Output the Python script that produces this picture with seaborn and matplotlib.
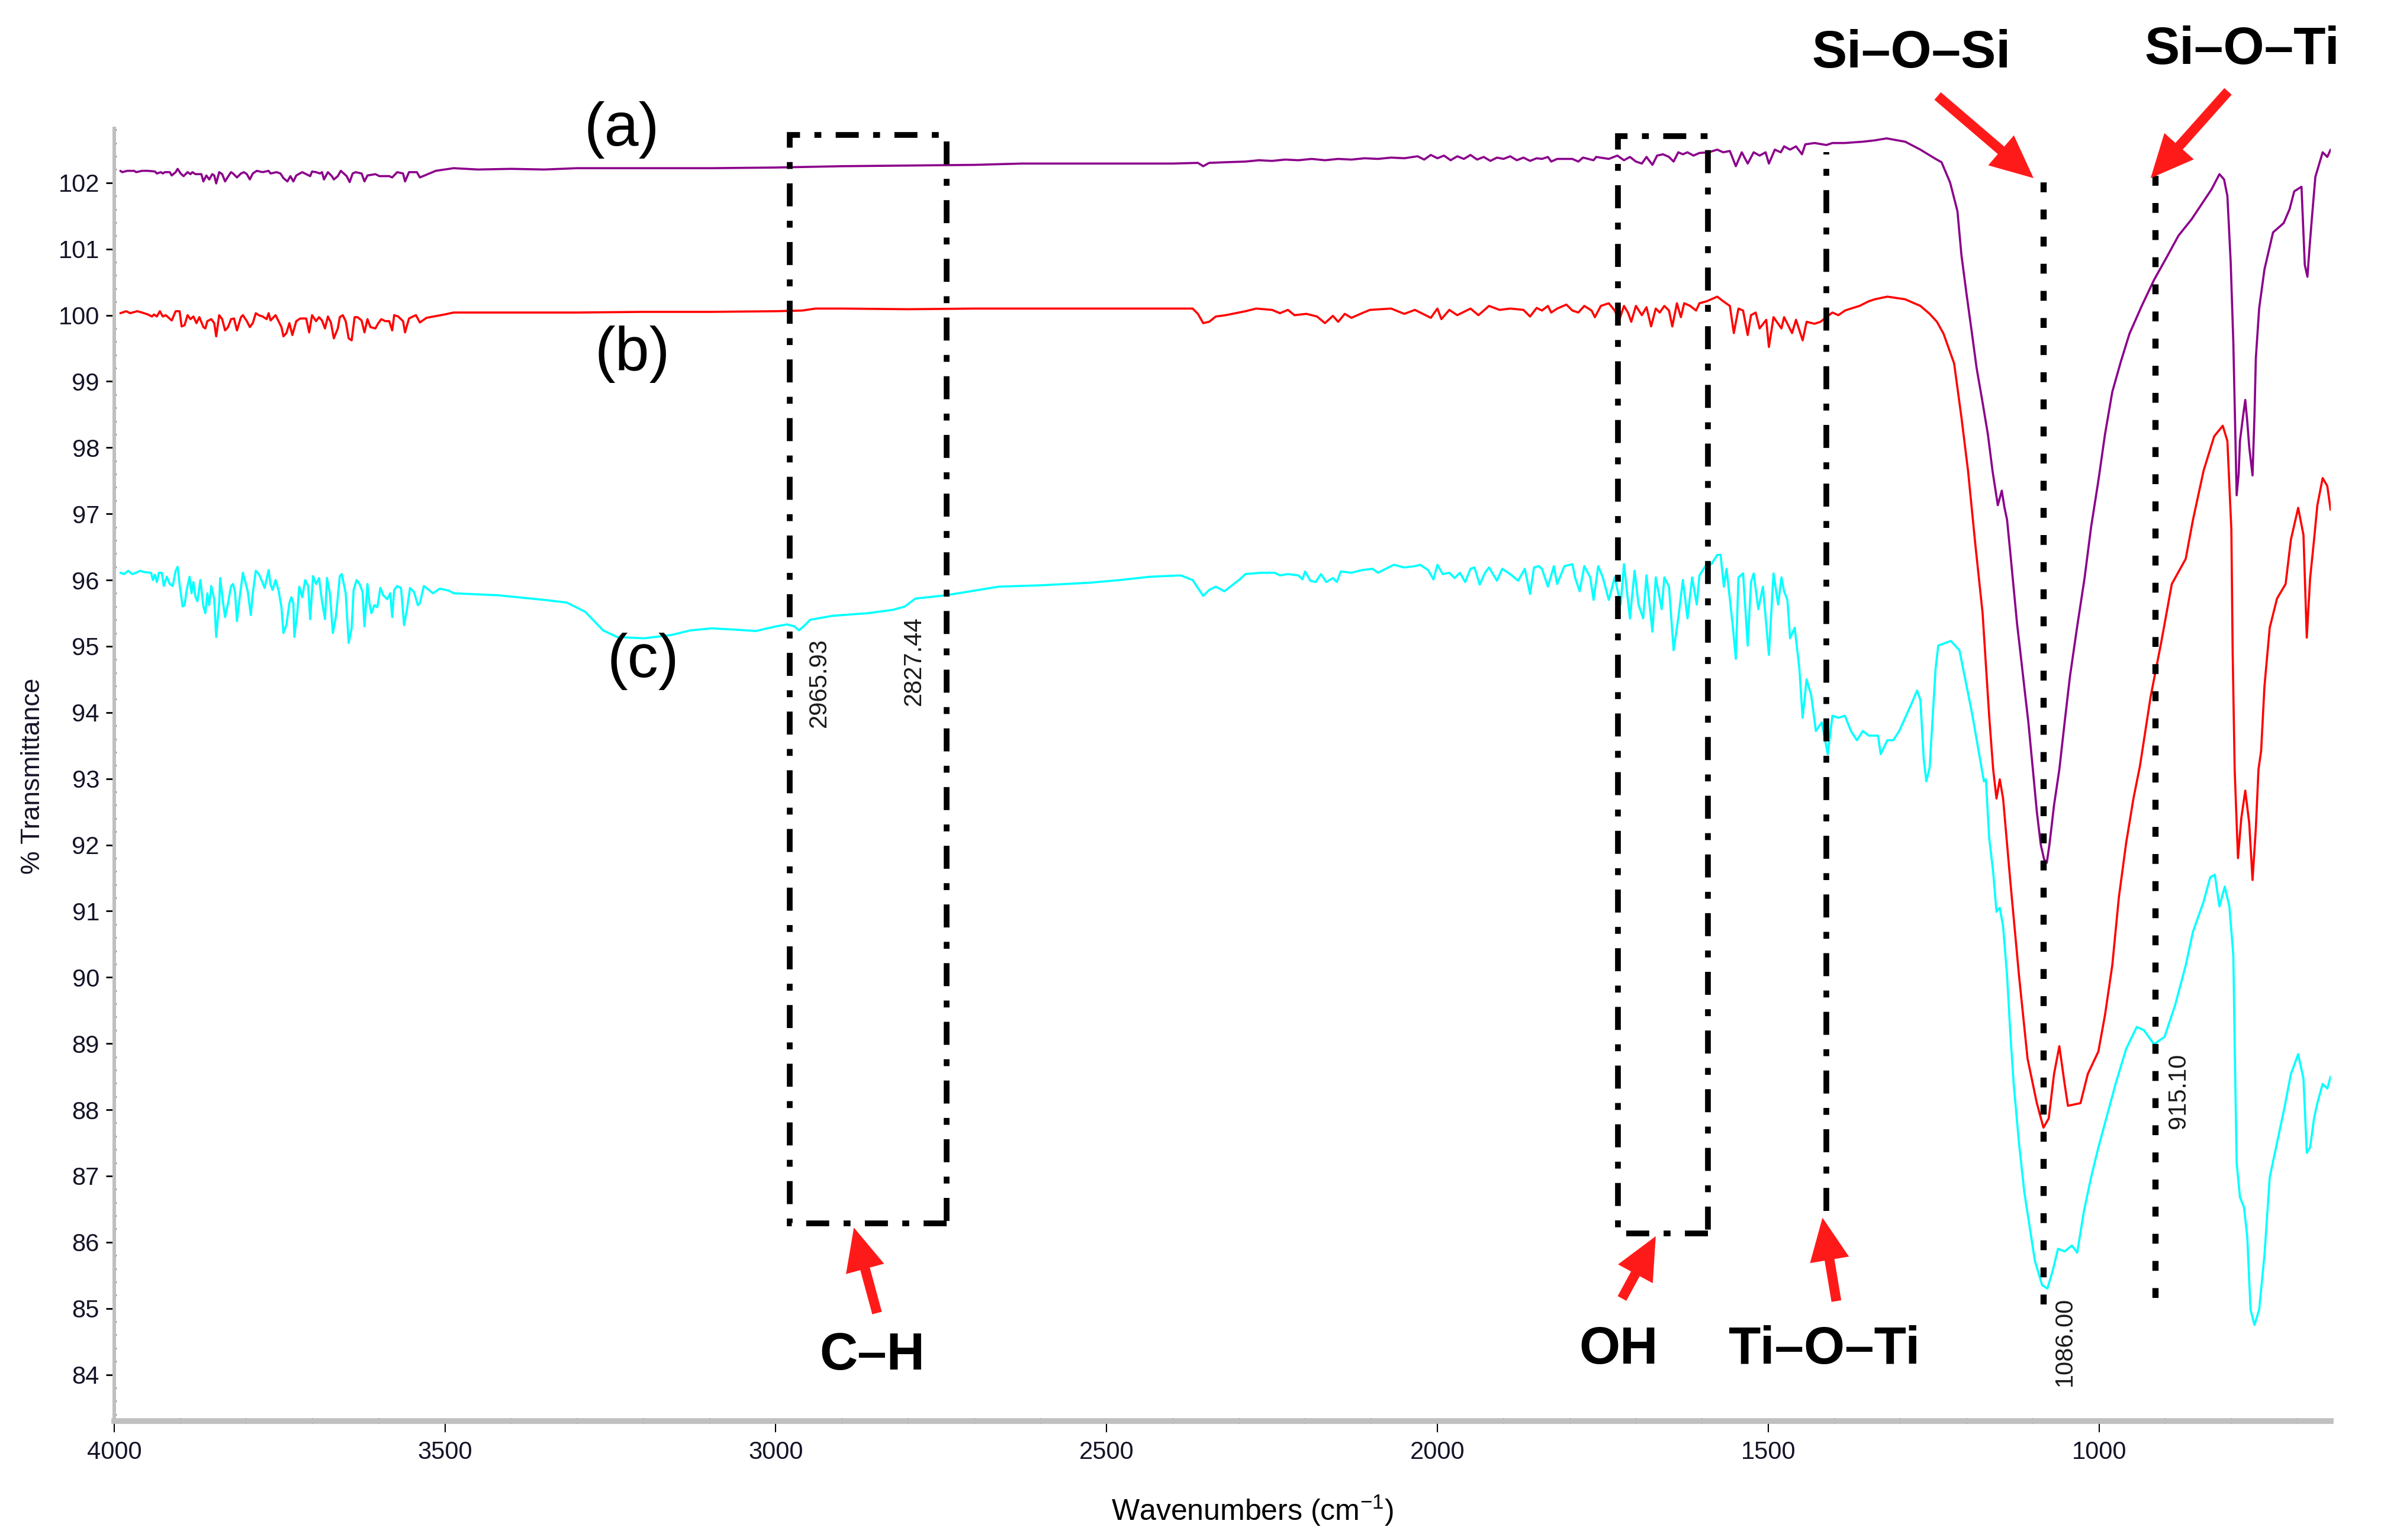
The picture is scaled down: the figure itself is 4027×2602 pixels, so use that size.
import numpy as np
import matplotlib
matplotlib.use("Agg")
import matplotlib.pyplot as plt
from matplotlib.patches import Rectangle
from matplotlib.ticker import FixedLocator, MultipleLocator
import seaborn as sns

# ==================== DATA ====================
# (a) purple
wn_a = [3990.7, 3987.8, 3980.3, 3969.8, 3966.8, 3957.9, 3948.9, 3938.4, 3935.5, 3929.5,
        3926.5, 3923.5, 3916.0, 3913.0, 3907.1, 3904.1, 3899.6, 3895.1, 3889.1, 3884.7,
        3881.7, 3877.2, 3868.2, 3865.2, 3860.7, 3856.3, 3851.8, 3848.8, 3845.8, 3841.3,
        3836.8, 3832.4, 3829.4, 3823.4, 3820.4, 3814.4, 3808.4, 3804.0, 3799.5, 3795.0,
        3790.5, 3784.5, 3775.6, 3766.6, 3763.6, 3754.6, 3748.7, 3744.2, 3738.2, 3733.7,
        3729.2, 3724.8, 3715.8, 3709.8, 3703.8, 3700.9, 3694.9, 3688.9, 3685.9, 3682.9,
        3677.0, 3671.0, 3668.0, 3662.0, 3657.5, 3653.0, 3648.6, 3644.1, 3639.6, 3635.1,
        3626.1, 3621.7, 3617.2, 3605.2, 3599.2, 3584.3, 3579.8, 3572.3, 3563.4, 3560.4,
        3554.4, 3542.5, 3538.0, 3514, 3487,
        3450, 3400, 3350, 3300, 3200, 3097, 3000, 2900, 2800, 2700, 2628, 2500, 2400, 2362, 2354, 2345,
        2320, 2290, 2270, 2250, 2230, 2210, 2190, 2170, 2150, 2130, 2110, 2090, 2070, 2050, 2030, 2020,
        2010, 2000, 1990, 1980, 1970, 1960, 1950, 1940, 1930, 1920, 1910, 1900, 1890, 1880, 1870, 1860, 1850,
        1842, 1833, 1828, 1819, 1796, 1787, 1780, 1764, 1760, 1741, 1728, 1718, 1709, 1700, 1691, 1684,
        1675, 1668, 1659, 1650, 1643, 1636, 1629, 1622, 1613, 1604, 1590, 1577, 1568, 1558, 1549, 1540,
        1531, 1522, 1513, 1504, 1499, 1490, 1481, 1476, 1467, 1458, 1449, 1444, 1430, 1412, 1403, 1385,
        1357, 1339, 1321, 1293, 1270, 1247,
        1238, 1225, 1214, 1208, 1200, 1192, 1185, 1176, 1168, 1161, 1153, 1147, 1143, 1139, 1134, 1129,
        1124, 1118, 1112, 1107, 1100, 1094, 1088, 1083, 1079, 1075, 1068, 1060, 1052, 1044, 1033, 1022,
        1012, 1001, 991, 980, 967, 954, 935, 917, 898, 880, 860, 842, 830, 818, 811, 806,
        801, 797, 794, 792, 789, 787, 782, 779, 776, 773, 768, 765, 763, 758, 750, 737,
        721, 712, 705, 694, 689, 685, 682, 678, 673, 662, 655, 650]
tr_a = [102.18, 102.16, 102.18, 102.18, 102.16, 102.18, 102.18, 102.17, 102.14, 102.16,
        102.14, 102.16, 102.16, 102.11, 102.16, 102.21, 102.14, 102.10, 102.16, 102.13,
        102.16, 102.13, 102.13, 102.02, 102.11, 102.05, 102.13, 102.11, 101.99, 102.16,
        102.13, 102.02, 102.07, 102.16, 102.14, 102.08, 102.14, 102.16, 102.13, 102.05,
        102.14, 102.18, 102.16, 102.18, 102.14, 102.16, 102.14, 102.07, 102.02, 102.10,
        102.02, 102.11, 102.16, 102.13, 102.10, 102.17, 102.16, 102.14, 102.16, 102.05,
        102.16, 102.10, 102.05, 102.10, 102.18, 102.14, 102.10, 102.01, 102.14, 102.16,
        102.14, 102.02, 102.11, 102.13, 102.10, 102.10, 102.08, 102.16, 102.14, 102.02,
        102.16, 102.16, 102.08, 102.18, 102.22,
        102.20, 102.21, 102.20, 102.22, 102.22, 102.22, 102.23, 102.25, 102.26, 102.27, 102.29, 102.29, 102.29, 102.30, 102.25, 102.30,
        102.31, 102.32, 102.34, 102.33, 102.35, 102.34, 102.36, 102.34, 102.36, 102.35, 102.37, 102.36, 102.38, 102.37, 102.40, 102.35,
        102.42, 102.37, 102.41, 102.34, 102.40, 102.36, 102.42, 102.35, 102.39, 102.33, 102.38, 102.36, 102.40, 102.34, 102.38, 102.33, 102.37,
        102.36, 102.39, 102.32, 102.36, 102.36, 102.32, 102.38, 102.34, 102.39, 102.36, 102.41, 102.34, 102.39, 102.32, 102.29, 102.39,
        102.27, 102.41, 102.43, 102.39, 102.32, 102.46, 102.43, 102.46, 102.41, 102.45, 102.46, 102.50, 102.46, 102.48, 102.25, 102.46,
        102.29, 102.46, 102.41, 102.46, 102.29, 102.50, 102.46, 102.55, 102.50, 102.55, 102.43, 102.58, 102.60, 102.57, 102.60, 102.60,
        102.62, 102.64, 102.67, 102.62, 102.50, 102.36,
        102.31, 102.00, 101.57, 100.91, 100.30, 99.72, 99.20, 98.68, 98.20, 97.65, 97.13, 97.35, 97.10, 96.91, 96.40, 95.87,
        95.35, 94.83, 94.30, 93.87, 93.14, 92.50, 92.00, 91.78, 91.73, 92.00, 92.60, 93.14, 93.85, 94.54, 95.30, 96.02,
        96.80, 97.50, 98.20, 98.84, 99.30, 99.72, 100.15, 100.53, 100.87, 101.20, 101.45, 101.72, 101.90, 102.13, 102.05, 101.80,
        100.80, 99.58, 98.20, 97.28, 97.60, 98.10, 98.50, 98.72, 98.40, 98.01, 97.58, 98.50, 99.35, 100.10, 100.69, 101.25,
        101.39, 101.60, 101.87, 101.94, 100.76, 100.58, 101.00, 101.50, 102.09, 102.46, 102.39, 102.50]

# (b) red
wn_b = [3990.7, 3981.8, 3975.8, 3965.3, 3957.9, 3948.9, 3942.9, 3939.9, 3935.5, 3931.0,
        3926.5, 3922.0, 3913.0, 3907.1, 3901.1, 3898.1, 3893.6, 3889.1, 3884.7, 3880.2,
        3875.7, 3871.2, 3865.2, 3862.2, 3859.2, 3853.3, 3848.8, 3845.8, 3841.3, 3836.8,
        3832.4, 3827.9, 3823.4, 3818.9, 3814.4, 3808.4, 3805.5, 3799.5, 3795.0, 3790.5,
        3786.0, 3781.5, 3775.6, 3769.6, 3766.6, 3763.6, 3756.1, 3753.1, 3747.2, 3744.2,
        3739.7, 3735.2, 3730.7, 3724.8, 3718.8, 3709.8, 3705.3, 3700.9, 3694.9, 3690.4,
        3685.9, 3681.4, 3677.0, 3672.5, 3668.0, 3662.0, 3659.0, 3654.5, 3650.1, 3645.6,
        3641.1, 3636.6, 3632.1, 3626.1, 3621.7, 3617.2, 3612.7, 3605.2, 3600.7, 3596.3,
        3590.3, 3584.3, 3579.8, 3576.8, 3570.8, 3563.4, 3560.4, 3554.4, 3548.4, 3543.9,
        3538.0, 3528, 3501, 3487,
        3400, 3300, 3200, 3100, 3000, 2960, 2940, 2900, 2800, 2700, 2600, 2500, 2400, 2370, 2362, 2354,
        2345, 2335, 2320, 2300,
        2290, 2274, 2250, 2238, 2226, 2216, 2198, 2182, 2170, 2158, 2150, 2140, 2130, 2114, 2102, 2070,
        2050, 2034, 2010, 2000, 1994, 1982, 1970, 1950, 1938, 1922, 1906, 1890, 1870, 1860, 1850,
        1842, 1833, 1828, 1819, 1805, 1796, 1787, 1778, 1767, 1762, 1753, 1741, 1732, 1725, 1718, 1712,
        1707, 1700, 1691, 1684, 1677, 1670, 1664, 1657, 1650, 1645, 1638, 1632, 1627, 1618, 1609, 1604,
        1593, 1577, 1568, 1558, 1552, 1545, 1538, 1531, 1526, 1519, 1513, 1503, 1499, 1492, 1485, 1480,
        1476, 1464, 1458, 1448, 1442, 1430, 1421, 1412, 1403, 1394, 1384, 1375, 1362, 1348, 1339, 1320,
        1293, 1270, 1256,
        1245, 1235, 1219, 1208, 1198, 1187, 1176, 1166, 1160, 1155, 1150, 1145, 1134, 1121, 1108, 1094,
        1084, 1076, 1068, 1060, 1052, 1047, 1028, 1017, 1001, 991, 980, 970, 959, 948, 938, 922,
        906, 890, 869, 858, 842, 826, 813, 806, 800, 798, 795, 790, 785, 779, 773, 768,
        763, 759, 755, 750, 742, 731, 718, 710, 699, 691, 686, 681, 675, 670, 662, 655, 650]
tr_b = [100.03, 100.06, 100.03, 100.06, 100.04, 100.01, 99.98, 100.01, 99.98, 100.06,
        99.98, 100.00, 99.92, 100.06, 100.06, 99.83, 99.85, 100.00, 99.94, 99.98,
        99.88, 99.97, 99.82, 99.80, 99.91, 99.94, 99.88, 99.68, 100.00, 99.94,
        99.77, 99.82, 99.94, 99.95, 99.77, 99.97, 100.00, 99.91, 99.82, 99.88,
        100.03, 100.00, 99.98, 99.94, 100.03, 99.92, 100.00, 99.94, 99.82, 99.68,
        99.73, 99.88, 99.70, 99.91, 99.95, 99.95, 99.74, 100.00, 99.91, 99.97,
        99.92, 99.80, 99.98, 99.89, 99.65, 99.80, 99.97, 100.00, 99.91, 99.65,
        99.62, 99.97, 99.97, 99.92, 99.74, 99.94, 99.82, 99.80, 99.88, 99.94,
        99.91, 99.91, 99.77, 100.00, 99.98, 99.91, 99.74, 99.95, 99.98, 100.00,
        99.89, 99.96, 100.01, 100.04,
        100.04, 100.04, 100.05, 100.05, 100.06, 100.07, 100.10, 100.10, 100.09, 100.10, 100.10, 100.10, 100.10, 100.10, 100.02, 99.88,
        99.90, 99.98, 100.00, 100.04,
        100.06, 100.10, 100.08, 100.03, 100.08, 100.00, 100.02, 99.98, 99.88, 99.99, 99.90, 100.02, 99.96, 100.03, 100.08, 100.10,
        100.02, 100.08, 99.96, 100.10, 99.94, 100.08, 100.00, 100.10, 100.00, 100.14, 100.08, 100.10, 100.08, 99.98, 100.11,
        100.07, 100.14, 100.04, 100.10, 100.16, 100.07, 100.04, 100.14, 100.07, 99.97, 100.14, 100.18, 100.07, 99.93, 100.14, 100.04,
        99.90, 100.14, 100.00, 100.12, 99.83, 100.10, 100.04, 100.14, 100.07, 99.83, 100.18, 99.97, 100.18, 100.14, 100.07, 100.18,
        100.21, 100.28, 100.21, 100.14, 99.73, 100.10, 100.07, 99.70, 100.00, 100.04, 99.80, 99.93, 99.52, 99.97, 99.87, 99.80,
        99.97, 99.73, 99.93, 99.62, 99.90, 99.87, 99.90, 99.97, 100.04, 100.00, 100.07, 100.10, 100.14, 100.21, 100.24, 100.28,
        100.24, 100.14, 100.02,
        99.90, 99.72, 99.27, 98.46, 97.65, 96.54, 95.50, 93.94, 93.14, 92.70, 92.99, 92.70, 91.44, 90.03, 88.77, 88.10,
        87.73, 87.87, 88.54, 88.96, 88.39, 88.06, 88.10, 88.54, 88.88, 89.43, 90.18, 91.21, 92.03, 92.70, 93.20, 94.24,
        95.06, 95.94, 96.32, 96.91, 97.65, 98.17, 98.33, 98.10, 96.76, 94.90, 93.14, 91.80, 92.40, 92.82, 92.33, 91.47,
        92.25, 93.14, 93.42, 94.39, 95.28, 95.72, 95.94, 96.61, 97.09, 96.68, 95.13, 96.02, 96.61, 97.13, 97.54, 97.42, 97.06]

# (c) cyan
wn_c = [3990.7, 3984.8, 3978.8, 3972.8, 3966.8, 3960.9, 3954.9, 3944.4, 3941.4, 3938.4,
        3935.5, 3932.5, 3928.0, 3925.0, 3920.5, 3916.0, 3911.5, 3907.1, 3904.1, 3901.1,
        3896.6, 3893.6, 3890.6, 3886.1, 3883.1, 3880.2, 3877.2, 3874.2, 3869.7, 3865.2,
        3862.2, 3859.2, 3856.3, 3853.3, 3848.8, 3845.8, 3841.3, 3839.8, 3835.3, 3832.4,
        3827.9, 3823.4, 3820.4, 3817.4, 3814.4, 3809.9, 3805.5, 3802.5, 3798.0, 3793.5,
        3790.5, 3786.0, 3781.5, 3778.6, 3772.6, 3766.6, 3763.6, 3760.6, 3756.1, 3751.7,
        3747.2, 3744.2, 3739.7, 3735.2, 3732.2, 3729.2, 3727.7, 3723.3, 3720.3, 3715.8,
        3711.3, 3706.8, 3703.8, 3699.4, 3694.9, 3690.4, 3685.9, 3681.4, 3678.4, 3674.0,
        3669.5, 3665.0, 3662.0, 3659.0, 3656.0, 3650.1, 3645.6, 3641.1, 3638.1, 3633.6,
        3629.1, 3624.6, 3621.7, 3617.2, 3614.2, 3611.2, 3606.7, 3602.2, 3597.7, 3593.3,
        3587.3, 3582.8, 3579.8, 3576.8, 3572.3, 3566.4, 3561.9, 3557.4, 3552.9, 3546.9,
        3541.0, 3538.0, 3532, 3518, 3508, 3494, 3487,
        3420, 3350, 3316, 3288, 3261, 3240, 3199, 3158, 3129, 3097, 3060, 3030, 3000, 2983, 2972, 2965,
        2958, 2948, 2914, 2860, 2823, 2805, 2789, 2743, 2700, 2663, 2600, 2525, 2480, 2434, 2388, 2370,
        2354, 2345, 2335, 2322, 2300,
        2290, 2266, 2246, 2238, 2226, 2210, 2204, 2200, 2192, 2184, 2176, 2168, 2158, 2152, 2146, 2130,
        2114, 2098, 2090, 2074, 2066, 2050, 2034, 2026, 2014, 2006, 2000, 1992, 1982, 1974, 1966, 1958,
        1950, 1944, 1936, 1928, 1922, 1910, 1902, 1890, 1878, 1868, 1860, 1854, 1847,
        1842, 1833, 1824, 1819, 1808, 1796, 1792, 1785, 1778, 1769, 1764, 1757, 1750, 1741, 1732, 1723,
        1718, 1709, 1702, 1696, 1689, 1684, 1675, 1670, 1661, 1657, 1650, 1643, 1636, 1629, 1622, 1615,
        1608, 1604, 1595, 1586, 1577, 1572, 1567, 1563, 1554, 1549, 1545, 1538, 1531, 1526, 1522, 1515,
        1508, 1499, 1492, 1485, 1480, 1476, 1471, 1467, 1460, 1453, 1448, 1442, 1435, 1428, 1419, 1410,
        1403, 1394, 1384, 1375, 1366, 1357, 1348, 1334, 1330, 1320, 1311, 1302, 1293, 1284, 1275, 1270,
        1265, 1261, 1256, 1247, 1243, 1224, 1211, 1192, 1174,
        1171, 1166, 1160, 1155, 1150, 1145, 1139, 1134, 1129, 1121, 1113, 1105, 1097, 1086, 1078, 1070,
        1062, 1052, 1041, 1033, 1023, 1012, 1001, 991, 975, 959, 943, 932, 917, 901, 885, 869,
        858, 842, 832, 825, 818, 810, 803, 797, 795, 792, 787, 781, 776, 771, 765, 758,
        750, 742, 731, 720, 710, 699, 691, 686, 681, 675, 670, 662, 655, 650]
tr_c = [96.11, 96.09, 96.14, 96.09, 96.11, 96.14, 96.12, 96.11, 96.00, 96.08,
        95.97, 96.11, 96.11, 95.91, 96.05, 95.94, 95.91, 96.14, 96.20, 95.93,
        95.60, 95.62, 95.84, 96.05, 95.80, 95.97, 95.75, 95.68, 96.00, 95.60,
        95.50, 95.80, 95.62, 95.91, 95.71, 95.14, 95.65, 96.03, 95.65, 95.44,
        95.65, 95.91, 95.94, 95.82, 95.38, 95.77, 96.11, 96.00, 95.82, 95.47,
        95.80, 96.14, 96.09, 96.03, 95.88, 96.15, 95.93, 95.85, 96.00, 95.85,
        95.59, 95.20, 95.32, 95.65, 95.74, 95.65, 95.14, 95.50, 95.90, 95.74,
        96.00, 95.91, 95.41, 96.06, 95.94, 96.03, 95.68, 95.41, 96.03, 95.80,
        95.20, 95.44, 95.74, 96.06, 96.09, 95.80, 95.05, 95.27, 95.85, 96.00,
        95.94, 95.82, 95.30, 95.94, 95.65, 95.50, 95.62, 95.59, 95.88, 95.77,
        95.71, 95.80, 95.44, 95.85, 95.91, 95.88, 95.32, 95.56, 95.88, 95.82,
        95.62, 95.65, 95.91, 95.80, 95.87, 95.84, 95.80,
        95.77, 95.70, 95.66, 95.52, 95.24, 95.14, 95.12, 95.17, 95.24, 95.27, 95.25, 95.23, 95.30, 95.33, 95.30, 95.24,
        95.30, 95.40, 95.46, 95.50, 95.55, 95.60, 95.72, 95.77, 95.84, 95.90, 95.92, 95.96, 96.00, 96.05, 96.07, 96.00,
        95.76, 95.85, 95.90, 95.83, 96.00,
        96.09, 96.11, 96.11, 96.07, 96.09, 96.07, 96.01, 96.13, 95.99, 95.97, 96.09, 95.97, 96.03, 95.97, 96.13, 96.11,
        96.15, 96.17, 96.11, 96.19, 96.23, 96.19, 96.21, 96.23, 96.15, 96.01, 96.23, 96.09, 96.11, 96.03, 96.11, 95.97,
        96.17, 96.19, 95.93, 96.11, 96.19, 95.99, 96.17, 96.09, 95.99, 96.17, 95.79, 96.19, 96.21,
        96.17, 95.90, 96.21, 95.94, 96.21, 96.24, 96.04, 95.83, 96.21, 96.04, 95.70, 96.21, 96.04, 95.70, 96.04, 95.63,
        96.24, 95.42, 96.14, 95.63, 95.42, 96.07, 95.22, 96.04, 95.56, 96.04, 95.90, 94.94, 95.42, 96.00, 95.42, 96.04,
        95.63, 96.07, 96.21, 96.24, 96.38, 96.38, 95.90, 96.17, 95.35, 94.81, 96.04, 96.10, 95.01, 95.97, 96.10, 95.56,
        95.90, 94.87, 96.10, 95.63, 96.04, 95.83, 95.70, 95.12, 95.28, 94.67, 93.92, 94.50, 94.26, 93.72, 93.85, 93.37,
        93.95, 93.92, 93.95, 93.72, 93.58, 93.72, 93.65, 93.65, 93.37, 93.58, 93.58, 93.72, 93.92, 94.12, 94.33, 94.19,
        93.30, 92.96, 93.17, 94.67, 95.01, 95.08, 94.94, 93.99, 92.96,
        92.99, 92.10, 91.59, 90.99, 91.05, 90.77, 90.03, 89.14, 88.39, 87.50, 86.76, 86.24, 85.72, 85.35, 85.30, 85.57,
        85.90, 85.86, 85.95, 85.84, 86.46, 86.98, 87.43, 87.80, 88.39, 88.92, 89.25, 89.20, 88.99, 89.10, 89.58, 90.18,
        90.69, 91.14, 91.51, 91.55, 91.07, 91.37, 91.07, 90.33, 88.99, 87.20, 86.68, 86.53, 86.09, 84.98, 84.75, 84.98,
        85.80, 86.98, 87.50, 88.02, 88.54, 88.84, 88.47, 87.35, 87.43, 87.87, 88.10, 88.39, 88.32, 88.50]

series_names = ["(a)", "(b)", "(c)"]
series_colors = ["#8B008B", "#FF0000", "#00FFFF"]

# ==================== STYLE ====================
sns.set_theme(style="white")
plt.rcParams['font.family'] = ['Liberation Sans', 'DejaVu Sans']
plt.rcParams['mathtext.fontset'] = 'custom'
plt.rcParams['mathtext.rm'] = 'Liberation Sans'
plt.rcParams['mathtext.it'] = 'Liberation Sans:italic'

fig = plt.figure(figsize=(40.27, 26.02), dpi=100)
ax = fig.add_axes([0.0479, 0.0773, 0.9297, 0.9227])

for wn, tr, col in zip([wn_a, wn_b, wn_c], [tr_a, tr_b, tr_c], series_colors):
    sns.lineplot(x=wn, y=tr, ax=ax, color=col, linewidth=2.6, estimator=None, sort=False, zorder=2)

ax.set_xlim(4000, 650)
ax.set_ylim(83.3, 104.76)
ax.set_xlabel("")
ax.set_ylabel("")

# axes / ticks
for s in ["top", "right"]:
    ax.spines[s].set_visible(False)
ax.spines["left"].set_color("#BFBFBF")
ax.spines["left"].set_linewidth(4.3)
ax.spines["left"].set_bounds(83.3, 102.82)
ax.spines["bottom"].set_color("#C0C0C0")
ax.spines["bottom"].set_linewidth(7.0)

yt = list(range(84, 103))
ax.set_yticks(yt, labels=[str(v) for v in yt])
ax.yaxis.set_minor_locator(FixedLocator(np.arange(83.4, 102.81, 0.2)))
xt = [1000, 1500, 2000, 2500, 3000, 3500, 4000]
ax.set_xticks(xt, labels=[str(v) for v in xt])
ax.xaxis.set_minor_locator(MultipleLocator(100))

lab_col = "#141428"
ax.tick_params(axis="y", which="major", direction="out", length=10, width=2, color="black",
               labelsize=30, labelcolor=lab_col, pad=8, left=True)
ax.tick_params(axis="y", which="minor", direction="inout", length=4.5, width=2.2, color="black", left=True)
ax.tick_params(axis="x", which="major", direction="out", length=14, width=1.5, color="black",
               labelsize=30, labelcolor=lab_col, pad=10, bottom=True)
ax.tick_params(axis="x", which="minor", direction="inout", length=7, width=1.5, color="black", bottom=True)

ax.text(-0.0366, 0.454, "% Transmittance", transform=ax.transAxes, rotation=90,
        ha="center", va="center", fontsize=32, color=lab_col)
ax.text(0.5136, -0.0629, "Wavenumbers (cm$^{-1}$)", transform=ax.transAxes,
        ha="center", va="center", fontsize=36, color="black")

# ==================== ANNOTATIONS ====================
dashdot = (0, (4, 2.5, 1.2, 2.5))
dotted = (0, (1.6, 2.8))

# C-H and OH boxes
ax.add_patch(Rectangle((2741.5, 86.28), 2979 - 2741.5, 102.72 - 86.28, fill=False,
                       edgecolor="black", linewidth=7, linestyle=dashdot, zorder=3, clip_on=False))
ax.add_patch(Rectangle((1591, 86.13), 1727 - 1591, 102.70 - 86.13, fill=False,
                       edgecolor="black", linewidth=7, linestyle=dashdot, zorder=3, clip_on=False))
# Ti-O-Ti line and Si-O-Si / Si-O-Ti dotted lines
ax.vlines(1412, 86.47, 102.46, colors="black", linewidth=7, linestyles=[dashdot], zorder=3)
ax.vlines(1084, 85.06, 102.09, colors="black", linewidth=7.5, linestyles=[dotted], zorder=3)
ax.vlines(915, 85.16, 102.17, colors="black", linewidth=7.5, linestyles=[dotted], zorder=3)

# peak value labels
peak_lbl = [(2934, 94.45, "2965.93"), (2791, 94.78, "2827.44"),
            (1052, 84.50, "1086.00"), (879.5, 88.28, "915.10")]
for x, y, t in peak_lbl:
    ax.text(x, y, t, rotation=90, ha="center", va="center", fontsize=30, color="#1a1a1a", zorder=4)

# curve labels
for (x, y), t in zip([(3233, 102.80), (3217, 99.41), (3201, 94.77)], series_names):
    ax.text(x, y, t, fontsize=75, ha="center", va="center", color="black", zorder=4)

# band labels
bands = [(1284, 103.95, "Si–O–Si"), (784, 104.0, "Si–O–Ti"), (2854, 84.28, "C–H"),
         (1726, 84.37, "OH"), (1415, 84.37, "Ti–O–Ti")]
for x, y, t in bands:
    ax.text(x, y, t, fontsize=64, fontweight="bold", ha="center", va="center",
            color="black", zorder=4, clip_on=False)

# red arrows (tail -> tip)
arrows = [((1244, 103.31), (1099, 102.07)), ((805, 103.38), (922, 102.07)),
          ((2847, 84.93), (2882, 86.22)), ((1721, 85.15), (1670, 86.09)),
          ((1397, 85.11), (1418, 86.37))]
for tail, tip in arrows:
    ax.annotate("", xy=tip, xytext=tail, annotation_clip=False, zorder=5,
                arrowprops=dict(arrowstyle="simple,head_length=2.6,head_width=2.4,tail_width=0.6",
                                color="#FF1A1A", mutation_scale=20, shrinkA=0, shrinkB=0, lw=0))

fig.savefig("out.png", dpi=100)
